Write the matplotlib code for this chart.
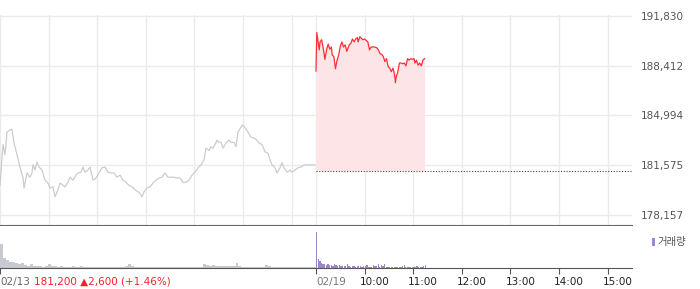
import numpy as np
import matplotlib.pyplot as plt
from matplotlib.patches import Rectangle
from matplotlib.transforms import offset_copy, blended_transform_factory

plt.rcParams['font.family'] = ['DejaVu Sans', 'Noto Sans CJK KR']

# previous sessions (02/13 ~ 02/18), position = sample column out of 316
prev_pos = [0, 3, 5, 7, 10, 12, 14, 17, 20, 23, 24, 27, 30, 32, 33, 35, 37, 39, 42, 45,
            48, 50, 53, 55, 58, 60, 63, 65, 68, 70, 73, 76, 78, 81, 83, 85, 88, 90, 93, 96,
            99, 102, 105, 108, 111, 114, 117, 120, 123, 126, 129, 132, 135, 138, 140, 142, 144, 147, 150, 153,
            156, 159, 162, 165, 168, 171, 174, 177, 180, 183, 186, 189, 192, 195, 198, 201, 204, 206, 209, 211,
            213, 215, 217, 219, 221, 223, 226, 229, 231, 234, 236, 238, 241, 243, 245, 248, 251, 254, 257, 259,
            262, 265, 268, 270, 272, 275, 277, 280, 282, 284, 287, 290, 292, 295, 298, 301, 304, 307, 310, 313, 315]
prev_price = [180200, 183000, 182300, 183850, 184000, 184050, 183100, 182300, 181450, 180700, 180000, 181050, 180750, 181050, 181600, 181250, 181800, 181450, 181250, 180550,
              180350, 180000, 180100, 179400, 179900, 180350, 180200, 180100, 180400, 180750, 180550, 180900, 181050, 181100, 181450, 181100, 181250, 181450, 180550, 180700,
              181050, 181400, 181450, 181100, 181050, 181050, 180750, 180900, 180550, 180400, 180200, 180100, 179900, 179750, 179650, 179400, 179750, 180000, 180100, 180350,
              180550, 180700, 180750, 181050, 180750, 180750, 180750, 180700, 180700, 180400, 180400, 180550, 180900, 181100, 181400, 181600, 181950, 182750, 182600, 182850,
              182750, 183000, 183300, 183150, 183150, 182750, 183100, 183300, 183150, 183150, 182850, 183850, 184200, 184350, 184150, 183850, 183500, 183450, 183300, 183100,
              183000, 182500, 182400, 181950, 181600, 181400, 181050, 181400, 181750, 181400, 181100, 181250, 181100, 181250, 181400, 181450, 181600, 181600, 181600, 181600, 181600]

# 02/19 intraday, minutes after 09:00
today_min = [0, 1, 4, 5, 7, 10, 11, 13, 15, 17, 19, 20, 22, 24, 26, 28, 30, 32, 34, 36,
             38, 41, 43, 45, 47, 49, 51, 52, 54, 56, 58, 60, 62, 64, 66, 68, 70, 72, 75, 77,
             79, 81, 83, 85, 87, 89, 91, 93, 95, 97, 98, 99, 101, 103, 105, 107, 109, 111, 113, 115,
             117, 119, 121, 122, 124, 126, 128, 130, 132, 134]
today_price = [188050, 190700, 189500, 190050, 190200, 189250, 188850, 189500, 189900, 189550, 189700, 189150, 189050, 188200, 188800, 189150, 189750, 190050, 189700, 189850,
               189400, 189850, 189950, 190250, 190050, 190250, 190350, 190050, 190400, 190300, 190200, 190250, 190150, 190050, 189500, 189700, 189700, 189700, 189650, 189500,
               189250, 189200, 189050, 188700, 188900, 188350, 188250, 188000, 188250, 187800, 187250, 187650, 188000, 188600, 188600, 188550, 188600, 188400, 188900, 188800,
               188900, 188850, 188900, 188600, 188800, 188450, 188600, 188400, 188800, 188900]
prev_close = 181200

# volume (thousand shares)
prev_vol = [24, 10, 8, 6, 6, 5, 4, 5, 3, 2, 4, 2, 2, 2, 1.5, 2, 4, 2, 2, 1.5,
            2, 1.5, 1.5, 1.5, 2, 1.5, 1.5, 2, 1.5, 1.5, 1, 1.5, 1.5, 1, 1.5, 1.5, 1.5, 1, 1, 1.5,
            1.5, 1.5, 2, 4, 2, 1.5, 1.5, 1, 1, 1.5, 1, 1, 1, 1, 1.5, 1, 1, 1, 1, 1.5,
            1, 1, 1, 1, 1.5, 1, 1.5, 1.5, 4, 3, 2, 3, 2, 2, 2.5, 2, 2, 2, 2, 5,
            2, 1.5, 1.5, 1.5, 1.5, 1.5, 1.5, 1, 1.5, 3.5, 2, 1.5, 1.5, 1, 1.5, 1.5, 1.5, 1.5, 1.5, 1.5,
            1.5, 1.5, 1, 1.5, 1.5, 1]
today_vol = [36, 9, 7, 5, 4, 4, 3.5, 4, 3, 3, 2, 4, 3, 2, 3, 2.5, 2, 2, 2, 4,
             2, 1.5, 2, 2, 1.5, 2, 2, 2, 1.5, 2, 2, 3, 1.5, 1.5, 1.5, 3, 2, 2, 4, 1.5,
             3, 2, 4, 1.5, 1.5, 1.5, 1.5, 1.5, 1.5, 1.5, 1.5, 1.5, 1.5, 2, 3, 1.5, 1.5, 1.5, 1.5, 1.5,
             1.5, 1.5, 2, 1.5, 1.5, 1.5, 2, 3]

price_ticks = [178157, 181575, 184994, 188412, 191830]
hour_labels = ['10:00', '11:00', '12:00', '13:00', '14:00', '15:00']

# x axis in minutes: 0..390 previous days, 390..780 = 09:00..15:30 on 02/19
OPEN = 390
prev_x = np.array(prev_pos) * OPEN / 316
today_x = np.array(today_min) + OPEN
grid_x = list(range(0, 361, 60)) + list(range(OPEN, 751, 60))
hour_x = [OPEN + 60 * (i + 1) for i in range(len(hour_labels))]

fig = plt.figure(figsize=(7, 2.89), dpi=100)
ax = fig.add_axes([0, 64 / 289, 632 / 700, 210 / 289])
axv = fig.add_axes([0, 21 / 289, 632 / 700, 42 / 289])

ax.fill_between(today_x, today_price, prev_close, color='#fde5e7', lw=0, zorder=1)
ax.plot(prev_x, prev_price, color='#cbccd2', lw=0.9, zorder=3)
ax.plot(today_x, today_price, color='#ff2d38', lw=0.9, zorder=3)
ax.hlines(prev_close, OPEN, 780, colors='#444444', linestyles=(0, (1, 1.5)), lw=0.8, zorder=3)

ax.set_xlim(0, 780)
ax.set_ylim(177470, 191899)
ax.set_xticks(grid_x)
ax.set_yticks(price_ticks)
ax.set_yticklabels([f'{p:,}' for p in price_ticks])
ax.grid(color='#ebebeb', lw=1, zorder=0)
ax.set_axisbelow(True)
ax.yaxis.tick_right()
ax.tick_params(axis='x', length=0, labelbottom=False)
ax.tick_params(axis='y', length=0, pad=6, labelsize=7.5, labelcolor='#555555')
for s in ['top', 'left', 'right']:
    ax.spines[s].set_visible(False)
ax.spines['bottom'].set_color('#666666')

# volume
axv.bar(np.arange(len(prev_vol)) * OPEN / len(prev_vol), prev_vol, width=OPEN / len(prev_vol),
        align='edge', color='#c9cad0', lw=0)
axv.bar(np.arange(len(today_vol)) * 2 + OPEN, today_vol, width=1.6, align='edge', color='#9b87c9', lw=0)
axv.set_xlim(0, 780)
axv.set_ylim(0, 42)
axv.set_yticks([])
axv.set_xticks([0, OPEN] + hour_x)
axv.tick_params(axis='x', length=4, color='#555555', labelbottom=False)
for s in ['top', 'left', 'right']:
    axv.spines[s].set_visible(False)
axv.spines['bottom'].set_color('#555555')

# bottom labels
y_lab = 7 / 289
trans = blended_transform_factory(axv.transData, fig.transFigure)
fig.text(0, y_lab, '02/13', color='#666666', fontsize=7.5, va='center', ha='left')
fig.text(34 / 700, y_lab, '181,200 ▲2,600 (+1.46%)', color='#f5222d', fontsize=7.5, va='center', ha='left')
axv.text(OPEN, y_lab, '02/19', transform=trans, color='#777777', fontsize=7.5, va='center', ha='left')
t_off = offset_copy(trans, fig=fig, x=-5, y=0, units='dots')
for hx, lab in zip(hour_x, hour_labels):
    axv.text(hx, y_lab, lab, transform=t_off, color='#222222', fontsize=7.5, va='center', ha='left')

# volume legend
fig.add_artist(Rectangle((652 / 700, 43 / 289), 3 / 700, 8 / 289, transform=fig.transFigure,
                         color='#9b87c9', lw=0))
fig.text(657 / 700, 47 / 289, '거래량', color='#555555', fontsize=7.5, va='center', ha='left')

fig.savefig('out.png', dpi=100)
